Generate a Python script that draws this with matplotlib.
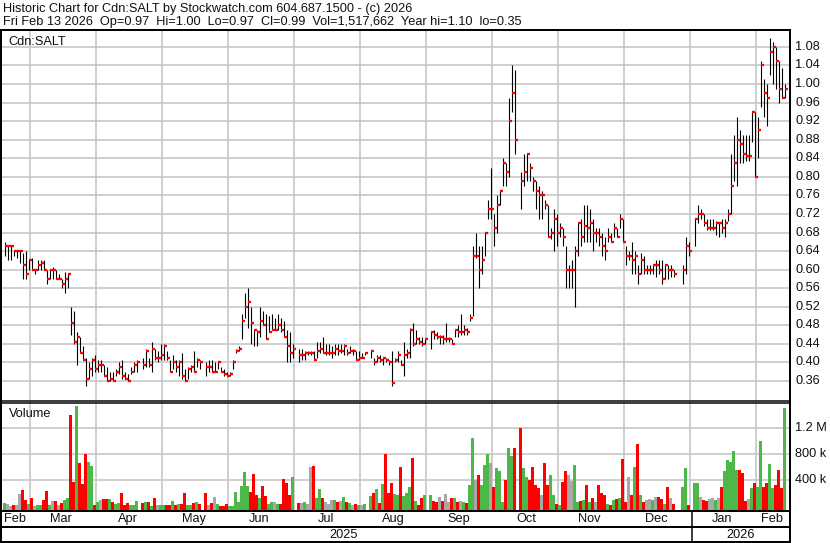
import matplotlib
matplotlib.use("Agg")
import matplotlib.pyplot as plt
from matplotlib.lines import Line2D

W, H = 830, 543
plt.rcParams['font.family'] = ['Liberation Sans', 'DejaVu Sans']

# ---------------- data ----------------
# weekday slots from Feb 2025 to Feb 13 2026; holidays have no bar
n_slots = 261
holidays = [45, 66, 97, 121, 141, 171, 224, 225, 229]

high = [
    .66, .65, .65, .64, .64, .64, .635, .64, .62, .625, .60, .62, .62, .62, .60, .60, .605, .60, .59, .58, .595, .59,
    .52, .51, .465, .455, .435, .41, .40, .41, .415, .405, .405, .395, .39, .38, .38, .385, .40, .405, .38, .375, .39, .40, .405,
    .41, .43, .41, .445, .43, .425, .44, .44, .425, .405, .415, .405, .405, .42, .385, .39, .395, .425, .41, .405,
    .40, .405, .405, .40, .40, .39, .385, .38, .38, .405, .43, .435, .505, .55, .56, .52, .47, .47, .52, .51, .505, .50, .505, .495, .505, .495, .49, .47, .465, .44,
    .43, .43, .425, .425, .425, .425, .445, .445, .455, .44, .44, .435, .44, .44, .44, .44, .43, .435, .43, .425, .425, .42, .42,
    .425, .41, .415, .415, .41, .41, .405, .425, .41, .425, .405, .445, .43, .475, .485, .47, .455, .455, .45,
    .465, .47, .465, .46, .46, .485, .455, .45, .47, .48, .505, .48, .475, .505,
    .65, .68, .65, .65, .68, .75, .82, .72, .76, .77, .84, .83, .97, 1.04, 1.03,
    .81, .85, .85, .83, .80, .79, .78, .77, .75, .74, .69, .73, .72, .70, .69, .65, .61, .62, .65, .70, .71, .74, .74, .73, .71, .69, .69, .68, .67, .69, .68, .70, .69, .72, .71, .65,
    .64, .66, .64, .61, .635, .63, .61, .61, .61, .62, .62, .62, .61, .61, .61, .60,
    .61, .67, .66,
    .71, .74, .73, .72, .71, .71, .71, .705, .70, .71, .71, .73, .85, .89, .93, .90, .89, .89, .89, .94, .94, .93, 1.05, 1.01, 1.00, 1.10, 1.09, 1.08, 1.05, 1.035, 1.00,
]
low = [
    .63, .62, .62, .63, .625, .615, .58, .58, .60, .60, .59, .60, .60, .60, .57, .58, .58, .58, .58, .56, .55, .56,
    .46, .44, .395, .42, .405, .35, .365, .37, .38, .38, .38, .37, .36, .36, .36, .37, .375, .365, .365, .36, .375, .38, .38,
    .385, .39, .39, .38, .405, .40, .405, .405, .405, .38, .385, .38, .37, .365, .36, .365, .38, .38, .39, .385,
    .37, .38, .38, .38, .385, .38, .37, .37, .37, .385, .42, .425, .45, .495, .475, .44, .435, .435, .455, .48, .45, .465, .47, .47, .47, .465, .455, .40, .40, .41,
    .40, .405, .405, .415, .415, .405, .41, .42, .42, .415, .415, .41, .415, .415, .42, .415, .415, .42, .415, .405, .405, .41, .415,
    .41, .395, .40, .40, .395, .40, .395, .35, .40, .40, .395, .37, .41, .41, .435, .44, .44, .435, .44,
    .43, .45, .45, .44, .44, .445, .445, .44, .455, .455, .46, .46, .46, .49,
    .50, .625, .56, .59, .63, .71, .71, .65, .68, .74, .78, .78, .80, .94, .85,
    .73, .78, .79, .79, .77, .73, .71, .71, .73, .67, .665, .64, .65, .67, .65, .56, .56, .56, .52, .63, .65, .66, .66, .66, .64, .66, .65, .63, .62, .66, .66, .67, .67, .69, .66, .61,
    .62, .59, .59, .57, .59, .59, .59, .59, .59, .585, .59, .57, .58, .58, .585, .585,
    .57, .59, .63,
    .65, .70, .71, .695, .685, .685, .685, .675, .67, .68, .67, .705, .72, .79, .78, .83, .83, .835, .835, .875, .80, .84, .95, .93, .91, 1.02, 1.00, .99, .96, .97, .97,
]
close = [
    .65, .65, .65, .64, .64, .64, .61, .59, .62, .60, .60, .61, .615, .60, .58, .60, .60, .58, .58, .57, .58, .59,
    .485, .445, .455, .42, .405, .365, .385, .405, .385, .395, .395, .37, .36, .365, .36, .38, .39, .37, .365, .36, .38, .395, .40,
    .395, .425, .395, .43, .41, .41, .415, .435, .41, .38, .40, .39, .40, .37, .36, .385, .39, .38, .405, .40,
    .39, .39, .38, .38, .40, .38, .375, .37, .375, .40, .425, .43, .49, .52, .53, .485, .47, .465, .49, .48, .45, .465, .47, .47, .48, .47, .455, .435, .42, .43,
    .415, .415, .42, .42, .42, .405, .425, .43, .42, .42, .42, .42, .43, .425, .425, .435, .42, .425, .425, .405, .41, .41, .42,
    .425, .40, .41, .405, .41, .405, .40, .355, .405, .415, .395, .415, .42, .47, .44, .45, .445, .44, .45,
    .465, .46, .455, .455, .45, .45, .45, .44, .47, .465, .465, .47, .465, .495,
    .63, .63, .60, .62, .68, .73, .73, .69, .74, .77, .83, .81, .92, .98, .88,
    .79, .81, .85, .82, .79, .77, .76, .76, .74, .67, .68, .71, .68, .69, .67, .60, .60, .60, .64, .70, .67, .695, .69, .70, .68, .68, .67, .65, .64, .67, .66, .69, .67, .71, .66, .63,
    .63, .62, .63, .59, .62, .60, .60, .60, .61, .61, .60, .58, .61, .60, .60, .59,
    .60, .65, .64,
    .71, .72, .72, .70, .69, .69, .69, .70, .70, .69, .70, .72, .78, .83, .88, .87, .85, .845, .845, .94, .80, .90, 1.04, .98, .97, 1.07, 1.08, 1.05, .99, .97, .99,
]
volume_k = [
    46, 36, 10, 20, 15, 195, 250, 97, 36, 123, 10, 15, 15, 97, 240, 25, 85, 85, 15, 46, 97, 123,
    1400, 380, 1540, 660, 340, 800, 680, 620, 25, 71, 97, 110, 110, 110, 71, 36, 46, 200, 15, 46, 25, 15, 85,
    46, 66, 66, 10, 133, 15, 15, 15, 15, 15, 85, 25, 36, 36, 200, 25, 25, 46, 61, 30,
    200, 15, 46, 149, 36, 10, 10, 36, 10, 10, 225, 71, 312, 533, 312, 225, 497, 174, 123, 312, 160, 30, 71, 71, 40, 30, 420, 353, 174, 446,
    46, 46, 71, 30, 610, 625, 123, 261, 123, 71, 40, 97, 97, 71, 82, 148, 71, 46, 20, 30, 20, 20, 30,
    164, 200, 261, 46, 343, 805, 210, 364, 184, 174, 610, 159, 200, 300, 738, 82, 20, 133, 174,
    174, 82, 71, 148, 82, 189, 60, 133, 123, 60, 82, 60, 46, 328,
    1045, 404, 481, 328, 635, 800, 661, 300, 584, 543, 71, 400, 892, 774, 892,
    1200, 584, 456, 404, 610, 328, 276, 174, 661, 328, 481, 174, 40, 20, 379, 543, 481, 389, 635, 71, 82, 97, 328, 60, 123, 71, 328, 200, 174, 40, 20, 97, 108, 123, 723, 60,
    446, 174, 610, 953, 174, 71, 97, 108, 97, 148, 148, 108, 40, 302, 123, 40,
    302, 584, 20,
    353, 353, 148, 90, 82, 108, 123, 97, 133, 300, 543, 712, 687, 851, 558, 558, 507, 82, 120, 287, 353, 302, 1004, 302, 353, 651, 276, 328, 558, 276, 1518,
]

price_ticks = [0.36, 0.40, 0.44, 0.48, 0.52, 0.56, 0.60, 0.64, 0.68, 0.72, 0.76, 0.80,
               0.84, 0.88, 0.92, 0.96, 1.00, 1.04, 1.08]
vol_ticks = [400e3, 800e3, 1.2e6]
vol_tick_labels = ["400 k", "800 k", "1.2 M"]
month_labels = ["Feb", "Mar", "Apr", "May", "Jun", "Jul", "Aug", "Sep", "Oct", "Nov", "Dec", "Jan", "Feb"]
month_label_px = [4, 50, 118, 182, 249, 318, 382, 447, 516, 578, 645, 712, 761]
year_labels = ["2025", "2026"]
year_label_px = [344, 741]
header1 = "Historic Chart for Cdn:SALT by Stockwatch.com 604.687.1500 - (c) 2026"
header2 = "Fri Feb 13 2026  Op=0.97  Hi=1.00  Lo=0.97  Cl=0.99  Vol=1,517,662  Year hi=1.10  lo=0.35"

trade_slots = [s for s in range(n_slots) if s not in holidays]
assert len(high) == len(low) == len(close) == len(volume_k) == len(trade_slots), \
    (len(high), len(low), len(close), len(volume_k), len(trade_slots))

# ---------------- figure ----------------
fig = plt.figure(figsize=(W / 100, H / 100), dpi=100)
fig.patch.set_facecolor("white")
PX = 0.72  # points per pixel
FS = 9.2
TXT = "#101010"


def rect(x0, y0, x1, y1):
    return [x0 / W, 1 - y1 / H, (x1 - x0) / W, (y1 - y0) / H]


def fline(x0, y0, x1, y1, lw=2, color="black"):
    fig.add_artist(Line2D([x0 / W, x1 / W], [1 - y0 / H, 1 - y1 / H],
                          transform=fig.transFigure, color=color, lw=lw * PX,
                          solid_capstyle="butt"))


XL = ((2 - 3) / 3, (789 - 3) / 3)
grid_x = [9 + 22 * k for k in range(12)]
GRID = "#c8c8c8"
RED = "#ff0000"
GREEN = "#4db848"
GRAY = "#a8a8a8"

# price panel
axp = fig.add_axes(rect(2, 31, 789, 400))
p_top = 0.36 + (381 - 31) / 464
p_bot = 0.36 - (400 - 381) / 464
axp.set_ylim(p_bot, p_top)
axp.set_xlim(*XL)
for p in price_ticks:
    axp.axhline(p, color=GRID, lw=1.7 * PX, zorder=0)
for g in grid_x:
    axp.axvline(g, color=GRID, lw=1.7 * PX, zorder=0)
xs = [s + 0.5 for s in trade_slots]
axp.vlines(xs, low, high, color="black", lw=1.1 * PX, zorder=2)
axp.hlines(close, [x + 0.15 for x in xs], [x + 1.1 for x in xs], color=RED, lw=2.3 * PX, zorder=3)
axp.set_xticks([])
axp.set_yticks([])
for sp in axp.spines.values():
    sp.set_visible(False)
axp.text(6 / 787, 1 - (42 - 31) / 369, "Cdn:SALT", transform=axp.transAxes,
         fontsize=FS, va="center", ha="left", color=TXT)

# volume panel
axv = fig.add_axes(rect(2, 402, 789, 510))
v_top = (506.3 - 402) / 26 * 400e3
v_bot = -(510 - 506.3) / 26 * 400e3
axv.set_ylim(v_bot, v_top)
axv.set_xlim(*XL)
for v in vol_ticks:
    axv.axhline(v, color=GRID, lw=1.7 * PX, zorder=0)
for g in grid_x:
    axv.axvline(g, color=GRID, lw=1.7 * PX, zorder=0)
vcolors = []
prev = None
for c in close:
    if prev is None or c > prev:
        vcolors.append(GREEN)
    elif c < prev:
        vcolors.append(RED)
    else:
        vcolors.append(GRAY)
    prev = c
vols = [v * 1000 for v in volume_k]
axv.bar(xs, [v - v_bot for v in vols], bottom=v_bot, width=0.7, color=vcolors,
        linewidth=0, zorder=2)
axv.set_xticks([])
axv.set_yticks([])
for sp in axv.spines.values():
    sp.set_visible(False)
axv.text(7 / 787, 1 - (414 - 402) / 108, "Volume", transform=axv.transAxes,
         fontsize=FS, va="center", ha="left", color=TXT)

# frame lines
fline(0, 30, 790, 30, lw=2)
fline(1, 29, 1, 543, lw=2)
fline(789.5, 29, 789.5, 543, lw=2)
fline(0, 400.5, 790, 400.5, lw=1.5)
fline(0, 403, 790, 403, lw=1.5)
fline(0, 511, 790, 511, lw=2)
fline(0, 527, 790, 527, lw=2)
fline(0, 542, 790, 542, lw=2)
fline(692, 511, 692, 542, lw=1.5)

# right-hand labels
for p in price_ticks:
    y = 381 - (p - 0.36) * 464
    fig.text(795 / W, 1 - y / H, f"{p:.2f}", fontsize=FS, va="center", ha="left", color=TXT)
for v, lab in zip(vol_ticks, vol_tick_labels):
    y = 506.3 - v / 400e3 * 26
    fig.text(795 / W, 1 - y / H, lab, fontsize=FS, va="center", ha="left", color=TXT)

# month and year labels
for lab, xp in zip(month_labels, month_label_px):
    fig.text(xp / W, 1 - 519 / H, lab, fontsize=FS, va="center", ha="left", color=TXT)
for lab, xp in zip(year_labels, year_label_px):
    fig.text(xp / W, 1 - 535 / H, lab, fontsize=FS, va="center", ha="center", color=TXT)

# header
fig.text(3 / W, 1 - 9 / H, header1, fontsize=FS, va="center", ha="left", color=TXT)
fig.text(3 / W, 1 - 22.5 / H, header2, fontsize=FS, va="center", ha="left", color=TXT)

fig.savefig("out.png", dpi=100, facecolor="white")
